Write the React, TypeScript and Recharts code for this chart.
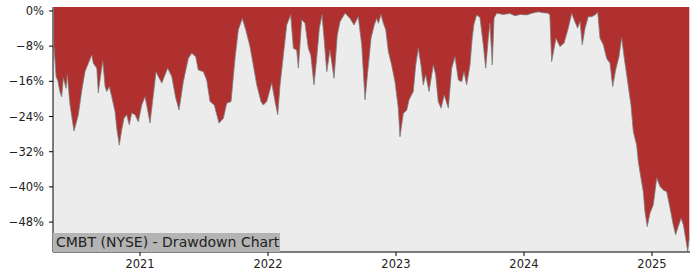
import { AreaChart, Area, XAxis, YAxis, CartesianGrid } from 'recharts';

// time as decimal years, drawdown in percent
const years = [
  2020.328, 2020.344, 2020.359, 2020.375, 2020.388, 2020.401, 2020.422, 2020.432, 2020.453, 2020.484,
  2020.518, 2020.545, 2020.570, 2020.596, 2020.623, 2020.635, 2020.662, 2020.674, 2020.693, 2020.709,
  2020.727, 2020.740, 2020.760, 2020.779, 2020.805, 2020.818, 2020.838, 2020.857, 2020.875, 2020.896,
  2020.916, 2020.935, 2020.961, 2020.987, 2021.013, 2021.039, 2021.052, 2021.078, 2021.104, 2021.125,
  2021.143, 2021.170, 2021.195, 2021.216, 2021.248, 2021.279, 2021.305, 2021.338, 2021.377, 2021.404,
  2021.435, 2021.455, 2021.495, 2021.521, 2021.547, 2021.580, 2021.617, 2021.651, 2021.677, 2021.711,
  2021.742, 2021.768, 2021.799, 2021.826, 2021.859, 2021.885, 2021.912, 2021.945, 2021.963, 2021.990,
  2022.029, 2022.055, 2022.076, 2022.094, 2022.120, 2022.146, 2022.177, 2022.198, 2022.224, 2022.237,
  2022.263, 2022.289, 2022.315, 2022.334, 2022.359, 2022.380, 2022.401, 2022.422, 2022.440, 2022.459,
  2022.484, 2022.516, 2022.541, 2022.563, 2022.602, 2022.641, 2022.672, 2022.705, 2022.732, 2022.758,
  2022.779, 2022.805, 2022.830, 2022.849, 2022.862, 2022.883, 2022.901, 2022.920, 2022.940, 2022.966,
  2022.992, 2023.018, 2023.031, 2023.057, 2023.084, 2023.102, 2023.135, 2023.154, 2023.174, 2023.195,
  2023.213, 2023.232, 2023.258, 2023.291, 2023.310, 2023.330, 2023.352, 2023.377, 2023.409, 2023.435,
  2023.461, 2023.487, 2023.513, 2023.531, 2023.552, 2023.578, 2023.596, 2023.609, 2023.630, 2023.656,
  2023.682, 2023.701, 2023.721, 2023.734, 2023.752, 2023.766, 2023.787, 2023.836, 2023.891, 2023.930,
  2023.969, 2024.021, 2024.063, 2024.112, 2024.148, 2024.190, 2024.202, 2024.216, 2024.250, 2024.281,
  2024.313, 2024.346, 2024.373, 2024.398, 2024.419, 2024.438, 2024.455, 2024.477, 2024.502, 2024.529,
  2024.555, 2024.576, 2024.594, 2024.620, 2024.646, 2024.672, 2024.693, 2024.716, 2024.742, 2024.763,
  2024.784, 2024.810, 2024.836, 2024.854, 2024.880, 2024.893, 2024.914, 2024.932, 2024.945, 2024.963,
  2024.984, 2025.010, 2025.037, 2025.063, 2025.088, 2025.115, 2025.141, 2025.166, 2025.185, 2025.205,
  2025.227, 2025.245, 2025.263, 2025.279, 2025.291,
];

const drawdown = [
  -8.1, -14.9, -16.0, -18.5, -19.5, -15.2, -17.6, -14.5, -21.4, -27.3,
  -23.6, -18.0, -13.8, -11.9, -10.0, -11.9, -13.0, -18.6, -14.5, -11.4,
  -17.2, -18.3, -17.2, -19.5, -22.9, -26.6, -30.5, -27.0, -24.4, -23.6,
  -25.9, -23.2, -23.6, -25.2, -21.4, -19.5, -21.4, -25.5, -19.1, -13.8,
  -14.9, -16.4, -14.5, -13.0, -14.9, -19.8, -22.5, -16.1, -10.8, -9.6,
  -10.4, -13.4, -13.8, -15.7, -20.6, -21.4, -25.5, -24.4, -21.0, -20.6,
  -10.8, -4.3, -1.7, -4.3, -8.1, -12.3, -16.8, -20.6, -21.4, -20.6,
  -16.4, -20.6, -23.6, -16.8, -10.0, -3.2, -0.9, -8.5, -8.9, -13.0,
  -2.0, -2.8, -8.5, -10.0, -16.8, -10.8, -3.9, -0.9, -7.0, -13.8,
  -8.9, -15.3, -5.5, -2.4, -0.5, -1.7, -3.2, -1.3, -7.7, -20.2,
  -13.8, -6.2, -3.2, -1.7, -2.8, -0.8, -2.8, -4.3, -9.2, -12.3,
  -16.1, -22.1, -28.6, -23.3, -22.5, -20.2, -18.3, -12.3, -8.5, -12.3,
  -16.8, -14.5, -18.3, -12.3, -14.5, -20.6, -22.1, -19.1, -22.1, -13.0,
  -10.4, -15.7, -16.1, -13.8, -16.8, -12.3, -6.0, -3.0, -0.9, -1.5,
  -7.7, -13.0, -6.2, -2.8, -12.3, -1.6, -0.5, -0.8, -0.6, -1.1,
  -0.8, -0.9, -0.5, -0.2, -0.4, -0.5, -1.0, -11.5, -6.2, -8.1,
  -7.3, -3.9, -0.5, -2.5, -3.9, -2.4, -7.7, -3.9, -1.3, -1.3,
  -0.9, -0.3, -6.2, -7.7, -10.8, -11.9, -17.2, -13.4, -10.4, -6.1,
  -10.8, -16.1, -21.4, -27.4, -30.5, -34.2, -38.0, -41.1, -45.6, -49.0,
  -46.0, -44.1, -38.0, -39.9, -40.7, -41.1, -44.8, -48.6, -50.9, -49.0,
  -47.1, -48.6, -51.7, -54.7, -51.6,
];

const yearTicks = [2021, 2022, 2023, 2024, 2025];
const pctTicks = [0, -8, -16, -24, -32, -40, -48];

const data = years.map((t, i) => ({ t, dd: drawdown[i] }));

const font = 'DejaVu Sans, sans-serif';
const tickStyle = { fill: '#222', fontSize: 11.5, fontFamily: font };

const fmtPct = (v: number) => (v < 0 ? `\u2212${-v}%` : `${v}%`);

export default function App() {
  return (
    <div style={{ position: 'absolute', left: 0, top: 0, width: 700, height: 280 }}>
      <AreaChart width={700} height={280} data={data} margin={{ top: 7, right: 10, bottom: 0, left: 0 }}>
        <CartesianGrid fill="#ececec" horizontal={false} vertical={false} />
        <XAxis
          xAxisId="b"
          dataKey="t"
          type="number"
          domain={[2020.32, 2025.297]}
          ticks={yearTicks}
          tickFormatter={(v: number) => String(v)}
          height={28}
          tickSize={4}
          tickMargin={4}
          stroke="#000"
          tick={tickStyle}
          allowDataOverflow
        />
        <XAxis xAxisId="top" orientation="top" dataKey="t" type="number" domain={[2020.32, 2025.297]} height={0} tick={false} tickLine={false} stroke="#000" />
        <YAxis
          yAxisId="l"
          type="number"
          domain={[-54.8, 0.9]}
          ticks={pctTicks}
          tickFormatter={fmtPct}
          width={53}
          tickSize={4}
          tickMargin={5}
          stroke="#000"
          tick={tickStyle}
          allowDataOverflow
        />
        <YAxis yAxisId="r" orientation="right" type="number" domain={[-54.8, 0.9]} width={0} tick={false} tickLine={false} stroke="#000" />
        <Area
          xAxisId="b"
          yAxisId="l"
          type="linear"
          dataKey="dd"
          baseValue="dataMax"
          fill="#b03030"
          fillOpacity={1}
          stroke="#7d7d7d"
          strokeWidth={0.8}
          isAnimationActive={false}
        />
      </AreaChart>
      <div
        style={{
          position: 'absolute',
          left: 53,
          top: 233,
          width: 227,
          height: 19,
          background: '#b4b4b4',
          color: '#222',
          fontFamily: font,
          fontSize: 14,
          lineHeight: '19px',
          paddingLeft: 3,
          boxSizing: 'border-box',
          whiteSpace: 'nowrap',
        }}
      >
        CMBT (NYSE) - Drawdown Chart
      </div>
    </div>
  );
}
